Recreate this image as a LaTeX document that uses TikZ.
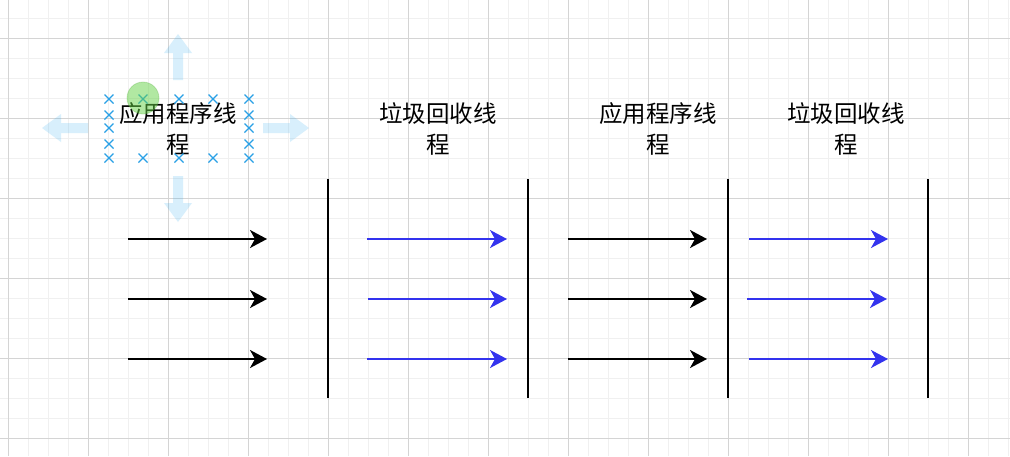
\documentclass[tikz,border=0pt]{standalone}
\usepackage{fontspec}
\newfontfamily\cjk{Noto Sans CJK SC}
\usetikzlibrary{arrows.meta}
\definecolor{gridminor}{RGB}{240,240,240}
\definecolor{gridmajor}{RGB}{212,212,212}
\definecolor{arrblue}{RGB}{51,51,238}
\definecolor{selblue}{RGB}{41,160,230}
\definecolor{hoverblue}{RGB}{41,170,240}
\definecolor{dotgreen}{RGB}{100,210,70}
\begin{document}
\begin{tikzpicture}[x=1pt,y=-1pt,
  lbl/.style={font=\cjk\fontsize{23.5}{31}\selectfont, align=center, inner sep=0pt, text=black},
  flowblack/.style={line width=2pt, black, -{Stealth[length=17pt,width=18pt,inset=5pt]}},
  flowblue/.style={line width=1.7pt, arrblue, -{Stealth[length=17pt,width=18pt,inset=5pt]}},
  barrier/.style={line width=2pt, black},
  selx/.style={selblue, line width=1.4pt},
  hoverarrow/.pic={\fill[hoverblue, opacity=0.18] (0,-5) -- (27,-5) -- (27,-14) -- (46,0) -- (27,14) -- (27,5) -- (0,5) -- cycle;}
]
\useasboundingbox (0,0) rectangle (1010,456);
\fill[white] (0,0) rectangle (1010,456);
% grid
\foreach \x in {8,28,...,1008} \draw[gridminor, line width=1pt] (\x,0) -- (\x,456);
\foreach \y in {18,38,...,456} \draw[gridminor, line width=1pt] (0,\y) -- (1010,\y);
\foreach \x in {8,88,...,1008} \draw[gridmajor, line width=1pt] (\x,0) -- (\x,456);
\foreach \y in {38,118,...,456} \draw[gridmajor, line width=1pt] (0,\y) -- (1010,\y);

% labels
\node[lbl] (t1) at (178,128.5) {应用程序线\\程};
\node[lbl] (t2) at (438,128.5) {垃圾回收线\\程};
\node[lbl] (t3) at (658,128.5) {应用程序线\\程};
\node[lbl] (t4) at (846,128.5) {垃圾回收线\\程};

% barriers
\foreach \x/\n in {328/1,528/2,728/3,928/4} {
  \coordinate (bt\n) at (\x,179);
  \coordinate (bb\n) at (\x,398);
}
\draw[barrier] (bt1) -- (bb1);
\draw[barrier] (bt2) -- (bb2);
\draw[barrier] (bt3) -- (bb3);
\draw[barrier] (bt4) -- (bb4);

% arrows group 1 (black)
\coordinate (a1s) at (128,239); \coordinate (a1e) at (267,239);
\coordinate (a2s) at (128,299); \coordinate (a2e) at (267,299);
\coordinate (a3s) at (128,359); \coordinate (a3e) at (267,359);
\draw[flowblack] (a1s) -- (a1e);
\draw[flowblack] (a2s) -- (a2e);
\draw[flowblack] (a3s) -- (a3e);
% group 2 (blue)
\coordinate (b1s) at (367,239); \coordinate (b1e) at (507,239);
\coordinate (b2s) at (368,299); \coordinate (b2e) at (507,299);
\coordinate (b3s) at (367,359); \coordinate (b3e) at (507,359);
\draw[flowblue] (b1s) -- (b1e);
\draw[flowblue] (b2s) -- (b2e);
\draw[flowblue] (b3s) -- (b3e);
% group 3 (black)
\coordinate (c1s) at (568,239); \coordinate (c1e) at (707,239);
\coordinate (c2s) at (568,299); \coordinate (c2e) at (707,299);
\coordinate (c3s) at (568,359); \coordinate (c3e) at (707,359);
\draw[flowblack] (c1s) -- (c1e);
\draw[flowblack] (c2s) -- (c2e);
\draw[flowblack] (c3s) -- (c3e);
% group 4 (blue)
\coordinate (d1s) at (749,239); \coordinate (d1e) at (888,239);
\coordinate (d2s) at (747,299); \coordinate (d2e) at (887,299);
\coordinate (d3s) at (749,359); \coordinate (d3e) at (888,359);
\draw[flowblue] (d1s) -- (d1e);
\draw[flowblue] (d2s) -- (d2e);
\draw[flowblue] (d3s) -- (d3e);

% selection decorations
\pic[rotate=90] at (178,80) {hoverarrow};
\pic[rotate=-90] at (178,176) {hoverarrow};
\pic[rotate=180] at (88,128) {hoverarrow};
\pic at (263,128) {hoverarrow};
\foreach \px/\py in {109/99,143/99,179/99,213/99,249/99,
                     109/115,109/128,109/144,249/115,249/128,249/144,
                     109/158,143/158,179/158,213/158,249/158} {
  \draw[selx] (\px-4.5,\py-4.5) -- (\px+4.5,\py+4.5);
  \draw[selx] (\px-4.5,\py+4.5) -- (\px+4.5,\py-4.5);
}
\fill[dotgreen, opacity=0.5] (143,98) circle (16);
\draw[dotgreen!80!black, opacity=0.25, line width=0.8pt] (143,98) circle (16);
\end{tikzpicture}
\end{document}
